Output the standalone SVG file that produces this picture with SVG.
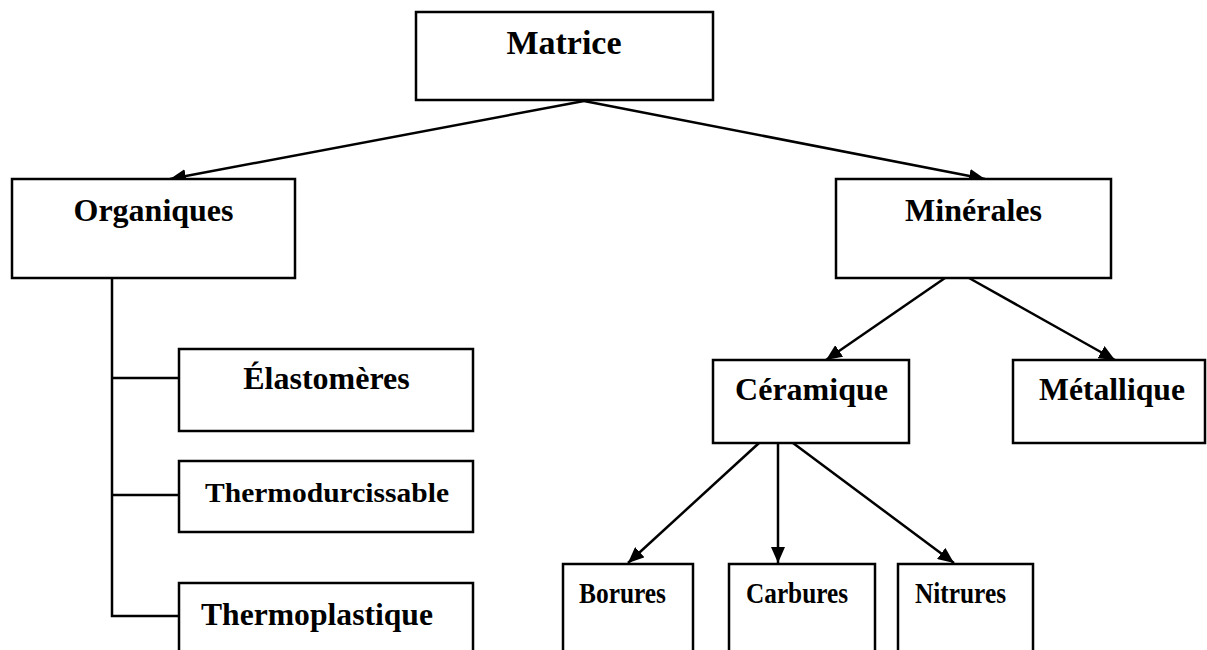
<svg xmlns="http://www.w3.org/2000/svg" width="1207" height="650" viewBox="0 0 1207 650">
<style>
.box{fill:#fff;stroke:#000;stroke-width:2.5}
.lbl{font-family:"Liberation Serif","Times New Roman",serif;font-weight:bold;fill:#000}
.c{text-anchor:middle}
.con{stroke:#000;stroke-width:2.5;fill:none}
.arr{marker-end:url(#ah)}
</style>
<defs>
<marker id="ah" markerUnits="userSpaceOnUse" markerWidth="17" markerHeight="14" refX="16" refY="7" orient="auto">
<path d="M0,0 L16,7 L0,14 z" fill="#000"/>
</marker>
</defs>
<rect width="1207" height="650" fill="#fff"/>
<g id="connectors">
<line class="con arr" x1="584" y1="101" x2="170" y2="179"/>
<line class="con arr" x1="584" y1="101" x2="985" y2="179"/>
<polyline class="con" points="112,278 112,616 179,616"/>
<line class="con" x1="112" y1="378" x2="179" y2="378"/>
<line class="con" x1="112" y1="495" x2="179" y2="495"/>
<line class="con arr" x1="945" y1="278" x2="826" y2="360"/>
<line class="con arr" x1="969" y1="278" x2="1115" y2="360"/>
<line class="con arr" x1="759" y1="443" x2="628" y2="563"/>
<line class="con arr" x1="778" y1="443" x2="778" y2="563"/>
<line class="con arr" x1="793" y1="443" x2="954" y2="563"/>
</g>
<g id="matrice">
<rect class="box" x="416" y="12" width="297" height="88"/>
<text class="lbl c" x="564" y="54" font-size="34">Matrice</text>
</g>
<g id="organiques">
<rect class="box" x="12" y="179" width="283" height="99"/>
<text class="lbl c" x="153.5" y="221" font-size="32">Organiques</text>
</g>
<g id="minerales">
<rect class="box" x="836" y="179" width="275" height="99"/>
<text class="lbl c" x="973.5" y="221" font-size="32">Minérales</text>
</g>
<g id="elastomeres">
<rect class="box" x="179" y="349" width="294" height="82"/>
<text class="lbl c" x="326.5" y="389" font-size="32">Élastomères</text>
</g>
<g id="thermodurcissable">
<rect class="box" x="179" y="461" width="294" height="71"/>
<text class="lbl" x="205" y="502" font-size="28" textLength="244" lengthAdjust="spacingAndGlyphs">Thermodurcissable</text>
</g>
<g id="thermoplastique">
<rect class="box" x="179" y="583" width="294" height="80"/>
<text class="lbl" x="201" y="625" font-size="32" textLength="232" lengthAdjust="spacingAndGlyphs">Thermoplastique</text>
</g>
<g id="ceramique">
<rect class="box" x="713" y="360" width="196" height="83"/>
<text class="lbl c" x="811.5" y="400" font-size="32">Céramique</text>
</g>
<g id="metallique">
<rect class="box" x="1013" y="360" width="192" height="83"/>
<text class="lbl" x="1039" y="400" font-size="32" textLength="146" lengthAdjust="spacingAndGlyphs">Métallique</text>
</g>
<g id="borures">
<rect class="box" x="563" y="564" width="130" height="100"/>
<text class="lbl" x="579" y="603" font-size="29" textLength="87" lengthAdjust="spacingAndGlyphs">Borures</text>
</g>
<g id="carbures">
<rect class="box" x="729" y="564" width="146" height="100"/>
<text class="lbl" x="746" y="603" font-size="29" textLength="102" lengthAdjust="spacingAndGlyphs">Carbures</text>
</g>
<g id="nitrures">
<rect class="box" x="898" y="564" width="135" height="100"/>
<text class="lbl" x="915" y="603" font-size="29" textLength="91" lengthAdjust="spacingAndGlyphs">Nitrures</text>
</g>
</svg>
